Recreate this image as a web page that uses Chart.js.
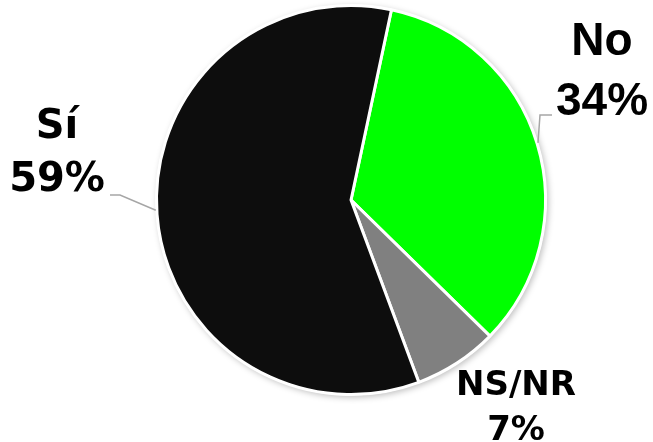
<!DOCTYPE html>
<html>
<head>
<meta charset="utf-8">
<script src="https://cdn.jsdelivr.net/npm/chart.js@4"></script>
<style>
  html, body { margin: 0; padding: 0; background: #fff; }
  #wrap { width: 653px; height: 442px; }
</style>
</head>
<body>
<div id="wrap"><canvas id="myChart" width="653" height="442"></canvas></div>
<script>
const labels = ['No', 'NS/NR', 'Sí'];
const values = [34, 7, 59];
const colors = ['#00ff00', '#808080', '#0d0d0d'];

// where each label goes, and which angle (deg from top, clockwise) its leader hits
const labelSpots = [
  { x: 602, y1: 55, y2: 115, font: 'bold 46px "Liberation Sans"', leader: [[552, 115], [540, 115]], edge: 73 },
  { x: 516, y1: 395, y2: 440, font: 'bold 34px "DejaVu Sans"', leader: null },
  { x: 57, y1: 138, y2: 191, font: 'bold 40px "DejaVu Sans"', leader: [[110, 195], [120, 195]], edge: 267 },
];

const pieLabels = {
  id: 'pieLabels',
  beforeDatasetsDraw(chart) {
    const ctx = chart.ctx;
    ctx.save();
    ctx.shadowColor = 'rgba(0,0,0,0.25)';
    ctx.shadowBlur = 6;
    ctx.shadowOffsetX = 2;
    ctx.shadowOffsetY = 2;
    const arc = chart.getDatasetMeta(0).data[0];
    ctx.beginPath();
    ctx.arc(arc.x, arc.y, arc.outerRadius + 1, 0, Math.PI * 2);
    ctx.fillStyle = '#fff';
    ctx.fill();
    ctx.restore();
  },
  afterDatasetsDraw(chart) {
    const ctx = chart.ctx;
    const meta = chart.getDatasetMeta(0);
    ctx.save();
    meta.data.forEach(function (arc, i) {
      const s = labelSpots[i];
      if (s.leader) {
        const a = (s.edge - 90) * Math.PI / 180;
        const ex = arc.x + Math.cos(a) * (arc.outerRadius + 1);
        const ey = arc.y + Math.sin(a) * (arc.outerRadius + 1);
        ctx.strokeStyle = '#a6a6a6';
        ctx.lineWidth = 1.5;
        ctx.beginPath();
        ctx.moveTo(s.leader[0][0], s.leader[0][1]);
        ctx.lineTo(s.leader[1][0], s.leader[1][1]);
        ctx.lineTo(ex, ey);
        ctx.stroke();
      }
      ctx.fillStyle = '#000';
      ctx.font = s.font;
      ctx.textAlign = 'center';
      ctx.textBaseline = 'alphabetic';
      ctx.fillText(labels[i], s.x, s.y1);
      ctx.fillText(values[i] + '%', s.x, s.y2);
    });
    ctx.restore();
  },
};

const ctx = document.getElementById('myChart');
const myChart = new Chart(ctx, {
  type: 'pie',
  data: {
    labels: labels,
    datasets: [
      {
        data: values,
        backgroundColor: colors,
        borderColor: '#ffffff',
        borderWidth: 3,
      },
    ],
  },
  options: {
    responsive: false,
    animation: false,
    rotation: 12,
    layout: {
      padding: { left: 155, right: 106, top: 4, bottom: 46 },
    },
    plugins: {
      legend: { display: false },
      tooltip: { enabled: false },
    },
  },
  plugins: [pieLabels],
});
</script>
</body>
</html>
